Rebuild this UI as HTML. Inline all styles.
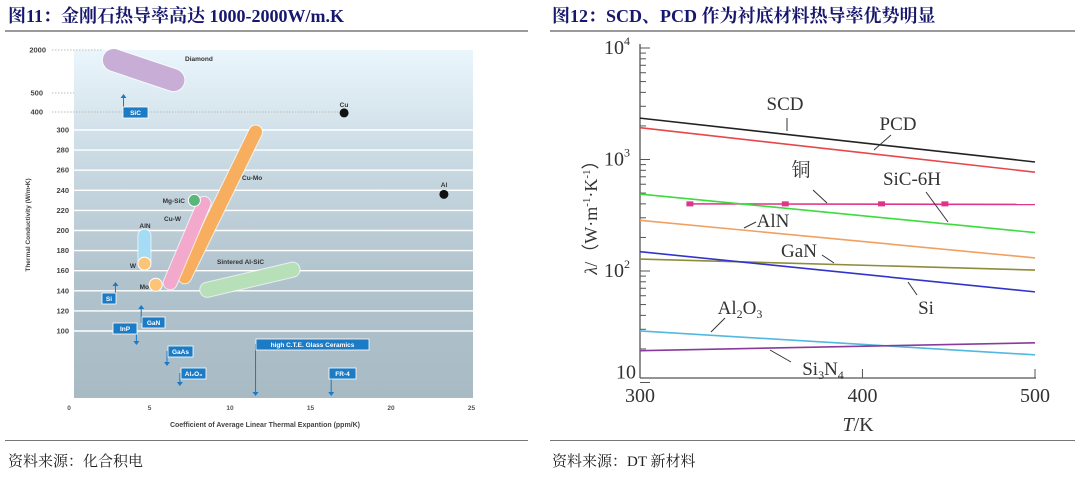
<!DOCTYPE html>
<html><head><meta charset="utf-8"><style>
body{margin:0;width:1080px;height:482px;background:#fff;overflow:hidden;position:relative;font-family:"Liberation Serif","Noto Serif CJK SC",serif}
.t{position:absolute;top:2px;font-size:18px;font-weight:bold;color:#17176e;white-space:nowrap}
.hl{position:absolute;top:30px;height:2px;background:#9a9a9a}
.fl{position:absolute;top:440px;height:1px;background:#777}
.src{position:absolute;top:450px;font-size:15px;color:#222}
svg{position:absolute;left:0;top:0}
</style></head><body>
<div class="t" style="left:8px">图11：金刚石热导率高达 1000-2000W/m.K</div>
<div class="t" style="left:552px">图12：SCD、PCD 作为衬底材料热导率优势明显</div>
<div class="hl" style="left:5px;width:523px"></div>
<div class="hl" style="left:550px;width:525px"></div>
<div class="fl" style="left:5px;width:523px"></div>
<div class="fl" style="left:550px;width:525px"></div>
<div class="src" style="left:8px">资料来源：化合积电</div>
<div class="src" style="left:552px">资料来源：DT 新材料</div>
<svg id="L" width="540" height="440">
<defs><linearGradient id="bg" x1="0" y1="0" x2="0" y2="1"><stop offset="0" stop-color="#eaf6fc"/><stop offset="0.3" stop-color="#cbdbe4"/><stop offset="0.65" stop-color="#b1c3cd"/><stop offset="1" stop-color="#a8bac4"/></linearGradient></defs>
</svg>
<svg id="R" width="1080" height="440"></svg>
<script>
// ---- Left chart data ----
const yTicksL=[100,120,140,160,180,200,220,240,260,280,300];
const yTopTicksL=[400,500,2000];
const xTicksL=[0,5,10,15,20,25];
const bandNames=["Diamond","Cu-Mo","Cu-W","AlN","Sintered Al-SiC"];
const bandX1=[2.6,7.0,6.1,4.5,8.4];
const bandY1=[1650,154,148,170,141];
const bandX2=[6.3,11.4,8.2,4.5,13.7];
const bandY2=[950,298,227,195,161];
const dotNames=["Mg-SiC","W","Mo","Cu","Al"];
const dotX=[7.6,4.5,5.2,16.9,23.1];
const dotY=[230,167,146,395,236];
const calloutNames=["SiC","Si","GaN","InP","GaAs","Al₂O₃","high C.T.E. Glass Ceramics","FR-4"];
const calloutX=[3.2,2.7,4.3,4.0,5.9,6.7,11.4,16.1];
const calloutUp=[true,true,true,false,false,false,false,false];

const NS="http://www.w3.org/2000/svg";
function mk(p,tag,a,txt){const e=document.createElementNS(NS,tag);for(const k in a)e.setAttribute(k,a[k]);if(txt!==undefined)e.textContent=txt;p.appendChild(e);return e;}
const xL=v=>72+v*16.1;
function yL(v){
  if(v<=300)return 331-(v-100)*1.005;
  const P=[[300,130],[400,112],[500,93],[2000,50]];
  for(let i=0;i<P.length-1;i++){if(v<=P[i+1][0]){const f=(v-P[i][0])/(P[i+1][0]-P[i][0]);return P[i][1]+f*(P[i+1][1]-P[i][1]);}}
  return 50;
}
const L=document.getElementById('L');
let e=mk(L,'rect',{x:74,y:50,width:399,height:348,fill:'url(#bg)'});

const lf='font-family:"Liberation Sans",sans-serif;font-weight:bold;';
yTicksL.forEach(v=>{
  e=mk(L,'line',{x1:74,x2:473,y1:yL(v),y2:yL(v),stroke:'#fff','stroke-width':1.4});
  
  e=mk(L,'text',{x:69,y:yL(v)+2.5,'text-anchor':'end',style:lf+'font-size:7.5px;fill:#444'},v);
  
});
yTopTicksL.forEach(v=>{
  e=mk(L,'line',{x1:52,x2:v==2000?103:(v==400?340:74),y1:yL(v),y2:yL(v),stroke:'#bbb','stroke-width':1,'stroke-dasharray':'1.5,1.5'});
  
  e=mk(L,'text',{x:v==2000?46:43,y:yL(v)+2.5,'text-anchor':'end',style:lf+'font-size:7.5px;fill:#444'},v);
  
});
xTicksL.forEach(v=>{
  e=mk(L,'text',{x:xL(v)-3,y:410,'text-anchor':'middle',style:lf+'font-size:6.5px;fill:#555'},v);
  
});
e=mk(L,'text',{x:265,y:427,'text-anchor':'middle',style:lf+'font-size:7px;fill:#444'},'Coefficient of Average Linear Thermal Expantion (ppm/K)');

e=mk(L,'text',{x:0,y:0,transform:'translate(30,225) rotate(-90)','text-anchor':'middle',style:lf+'font-size:6.5px;fill:#444'},'Thermal Conductivity (W/m•K)');

const bandCol=['#c8aed6','#f7ae5e','#f3a9cc','#a5dcf5','#b7e0b8'];
const bandW=[22,13,13,12,14];
bandNames.forEach((n,i)=>{
  e=mk(L,'line',{x1:xL(bandX1[i]),y1:yL(bandY1[i]),x2:xL(bandX2[i]),y2:yL(bandY2[i]),stroke:'#fff','stroke-width':bandW[i]+2,'stroke-linecap':'round','stroke-opacity':0.7});
  
  e=mk(L,'line',{x1:xL(bandX1[i]),y1:yL(bandY1[i]),x2:xL(bandX2[i]),y2:yL(bandY2[i]),stroke:bandCol[i],'stroke-width':bandW[i],'stroke-linecap':'round'});
  
});
const dotCol=['#5ab77a','#fbc477','#fbc477','#111','#111'];
const dotR=[6,6.5,6.5,4.5,4.5];
dotNames.forEach((n,i)=>{
  e=mk(L,'circle',{cx:xL(dotX[i]),cy:yL(dotY[i]),r:dotR[i],fill:dotCol[i],stroke:i<3?'#fff':'none','stroke-width':1});
  
});
const labs=[["Diamond",185,61,'start'],["Cu",344,107,'middle'],["Al",444,187,'middle'],["Cu-Mo",242,180,'start'],["Mg-SiC",185,203,'end'],["Cu-W",164,221,'start'],["AlN",145,228,'middle'],["W",136,268,'end'],["Mo",149,289,'end'],["Sintered Al-SiC",217,264,'start']];
labs.forEach(l=>{
  e=mk(L,'text',{x:l[1],y:l[2],'text-anchor':l[3],style:lf+'font-size:6.5px;fill:#333'},l[0]);
  
});
// callouts: box positions (annotation layout)
const boxPos=[[123,107,25],[102,293,14],[142,317,23],[113,323,24],[168,346,25],[181,368,25],[256,339,113],[329,368,27]];
const arrowEnd=[94,282,305,345,366,386,396,396];
calloutNames.forEach((n,i)=>{
  const ax=xL(calloutX[i]);const b=boxPos[i];
  const ys=calloutUp[i]?b[1]+6:b[1]+5;
  e=mk(L,'line',{x1:ax,x2:ax,y1:ys,y2:arrowEnd[i]+(calloutUp[i]?2:-2),stroke:'#1a7ac4','stroke-width':1});
  
  const t=arrowEnd[i];
  e=mk(L,'path',{d:calloutUp[i]?`M${ax-3},${t+4}L${ax+3},${t+4}L${ax},${t}Z`:`M${ax-3},${t-4}L${ax+3},${t-4}L${ax},${t}Z`,fill:'#1a7ac4'});
  
  e=mk(L,'rect',{x:b[0],y:b[1],width:b[2],height:11,fill:'#1b7bc5',stroke:'#fff','stroke-width':0.8});
  
  e=mk(L,'text',{x:b[0]+b[2]/2,y:b[1]+8,'text-anchor':'middle',style:lf+'font-size:6.5px;fill:#fff'},n);
  
});

// ---- Right chart data ----
const seriesNames=["SCD","PCD","Cu","SiC-6H","AlN","GaN","Si","Al2O3","Si3N4"];
const seriesT1=[300,300,320,300,300,300,300,300,300];
const seriesT2=[500,500,500,500,500,500,500,500,500];
const seriesV1=[2350,1930,400,490,285,128,149,29,19.3];
const seriesV2=[950,770,395,221,131,102,65,17.7,22.7];
const cuMarkers=[320,362,410,445];
const cuMarkerV=[400,400,400,400];
const xTicksR=[300,400,500];
const yDecadesR=[1,2,3,4];
const seriesCol=['#222','#e8474a','#e0338a','#3bdc3b','#f0a060','#8e8c3c','#3333cc','#52b8e0','#8a3a9a'];

const R=document.getElementById('R');
const xR=t=>640+Math.log(t/300)/Math.log(5/3)*395;
const yR=v=>48+(4-Math.log10(v))*111.5;
const sf='font-family:"Liberation Serif",serif;';
e=mk(R,'line',{x1:640,x2:640,y1:44,y2:378,stroke:'#555','stroke-width':1.3});

e=mk(R,'line',{x1:640,x2:1036,y1:378,y2:378,stroke:'#555','stroke-width':1.3});

yDecadesR.forEach(d=>{
  const y=yR(Math.pow(10,d));
  e=mk(R,'line',{x1:640,x2:650,y1:y,y2:y,stroke:'#555','stroke-width':1});
  
  if(d<4)for(let m=2;m<10;m++){const ym=yR(m*Math.pow(10,d));
    e=mk(R,'line',{x1:640,x2:646,y1:ym,y2:ym,stroke:'#555','stroke-width':1});
    }
  const tx=mk(R,'text',{x:d==1?636:630,y:d==1?y-4:y+6,'text-anchor':'end',style:sf+'font-size:20px;fill:#333'});
  tx.textContent='10';
  if(d>1){const s=mk(tx,'tspan',{dy:-9,style:'font-size:12px'},String(d));}
  
});
xTicksR.forEach(t=>{
  e=mk(R,'line',{x1:xR(t),x2:xR(t),y1:378,y2:369,stroke:'#555','stroke-width':1});
  
  e=mk(R,'text',{x:xR(t),y:402,'text-anchor':'middle',style:sf+'font-size:20px;fill:#333'},t);
  
});
e=mk(R,'text',{x:858,y:431,'text-anchor':'middle',style:sf+'font-size:20px;fill:#333'});
mk(e,'tspan',{'font-style':'italic'},'T');mk(e,'tspan',{},'/K');

e=mk(R,'text',{x:0,y:0,transform:'translate(597,213) rotate(-90)','text-anchor':'middle',style:sf+'font-size:18px;fill:#333'});
mk(e,'tspan',{'font-style':'italic'},'λ');mk(e,'tspan',{},'/（W·m');mk(e,'tspan',{dy:-7,style:'font-size:11px'},'-1');mk(e,'tspan',{dy:7},'·K');mk(e,'tspan',{dy:-7,style:'font-size:11px'},'-1');mk(e,'tspan',{dy:7},'）');

seriesNames.forEach((n,i)=>{
  e=mk(R,'line',{x1:xR(seriesT1[i]),y1:yR(seriesV1[i]),x2:xR(seriesT2[i]),y2:yR(seriesV2[i]),stroke:seriesCol[i],'stroke-width':1.6});
  
});
cuMarkers.forEach((t,i)=>{
  e=mk(R,'rect',{x:xR(t)-3.5,y:yR(cuMarkerV[i])-2.5,width:7,height:5,fill:'#e0338a'});
  
});
const rl=[["SCD",785,110,[787,118,787,131]],["PCD",898,130,[891,135,874,150]],["铜",801,176,[813,190,827,203]],["SiC-6H",912,185,[926,192,948,222]],["AlN",773,227,[756,222,744,228]],["GaN",799,257,[822,255,834,263]],["Si",926,314,[917,295,908,282]],["Al2O3",740,314,[725,318,711,332]],["Si3N4",823,375,[791,362,770,350]]];
rl.forEach(r=>{
  e=mk(R,'text',{x:r[1],y:r[2],'text-anchor':'middle',style:'font-family:"Liberation Serif","Noto Serif CJK SC",serif;font-size:19px;fill:#333'});
  if(r[0]=="Al2O3"){mk(e,'tspan',{},'Al');mk(e,'tspan',{dy:4,style:'font-size:12px'},'2');mk(e,'tspan',{dy:-4},'O');mk(e,'tspan',{dy:4,style:'font-size:12px'},'3');}
  else if(r[0]=="Si3N4"){mk(e,'tspan',{},'Si');mk(e,'tspan',{dy:4,style:'font-size:12px'},'3');mk(e,'tspan',{dy:-4},'N');mk(e,'tspan',{dy:4,style:'font-size:12px'},'4');}
  else e.textContent=r[0];
  
  const p=r[3];
  e=mk(R,'line',{x1:p[0],y1:p[1],x2:p[2],y2:p[3],stroke:'#333','stroke-width':1});
  
});
</script>
</body></html>
